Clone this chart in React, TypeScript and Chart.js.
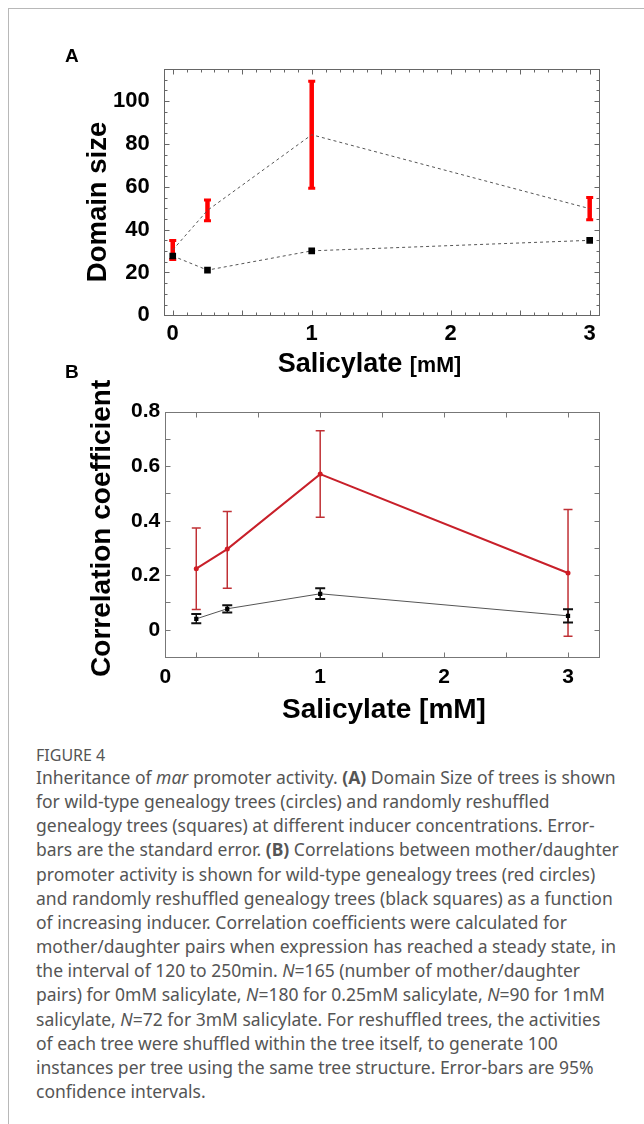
import React, { useEffect, useRef } from "react";
import { Chart, registerables } from "chart.js";

Chart.register(...registerables);

// ---------- data ----------
const concentrations = [0, 0.25, 1, 3];

// Panel A: domain size
const domainWT = [30.5, 49, 84.3, 49.8];
const domainWTErr = [4.4, 4.8, 25, 5.2];
const domainShuffled = [27.7, 21.1, 30.1, 35];

// Panel B: correlation coefficient
const corrWT = [0.224, 0.296, 0.571, 0.208];
const corrWTLow = [0.074, 0.152, 0.413, -0.024];
const corrWTHigh = [0.373, 0.434, 0.73, 0.441];
const corrShuffled = [0.04, 0.077, 0.132, 0.051];
const corrShuffledLow = [0.024, 0.063, 0.113, 0.027];
const corrShuffledHigh = [0.058, 0.09, 0.152, 0.075];

// tick labels
const xTicksA = [0, 1, 2, 3];
const yTicksA = [0, 20, 40, 60, 80, 100];
const xTicksB = [-0.25, 1, 2, 3];
const xTickLabelsB = ["0", "1", "2", "3"];
const yTicksB = [0, 0.2, 0.4, 0.6, 0.8];

const FONT = "'Liberation Sans', Arial, Helvetica, sans-serif";

type ErrSpec = {
  low: number[];
  high: number[];
  color: string;
  width: number;
  capWidth: number;
  capThickness: number;
};

function errorBarPlugin(specs: ErrSpec[]) {
  return {
    id: "errorBars",
    beforeDatasetsDraw(chart: any) {
      const { ctx, scales } = chart;
      const xs = scales.x;
      const ys = scales.y;
      ctx.save();
      for (const s of specs) {
        ctx.strokeStyle = s.color;
        concentrations.forEach((c, i) => {
          const px = xs.getPixelForValue(c);
          const pLow = ys.getPixelForValue(s.low[i]);
          const pHigh = ys.getPixelForValue(s.high[i]);
          ctx.lineCap = "butt";
          ctx.lineWidth = s.width;
          ctx.beginPath();
          ctx.moveTo(px, pLow);
          ctx.lineTo(px, pHigh);
          ctx.stroke();
          ctx.lineWidth = s.capThickness;
          ctx.beginPath();
          ctx.moveTo(px - s.capWidth / 2, pLow);
          ctx.lineTo(px + s.capWidth / 2, pLow);
          ctx.moveTo(px - s.capWidth / 2, pHigh);
          ctx.lineTo(px + s.capWidth / 2, pHigh);
          ctx.stroke();
        });
      }
      ctx.restore();
    },
  };
}

type TickSpec = { step: number; len: number };

function framePlugin(color: string, xSpecs: TickSpec[], ySpecs: TickSpec[]) {
  return {
    id: "frame",
    afterDraw(chart: any) {
      const { ctx, chartArea: a, scales } = chart;
      const L = Math.round(a.left) + 0.5;
      const R = Math.round(a.right) + 0.5;
      const T = Math.round(a.top) + 0.5;
      const B = Math.round(a.bottom) + 0.5;
      ctx.save();
      ctx.strokeStyle = color;
      ctx.lineWidth = 1;
      ctx.strokeRect(L, T, R - L, B - T);
      ctx.beginPath();
      for (const s of xSpecs) {
        const xs = scales.x;
        const k0 = Math.ceil(xs.min / s.step - 1e-9);
        const k1 = Math.floor(xs.max / s.step + 1e-9);
        for (let k = k0; k <= k1; k++) {
          const v = k * s.step;
          const p = Math.round(xs.getPixelForValue(v)) + 0.5;
          if (p <= L + 1 || p >= R - 1) continue;
          ctx.moveTo(p, B);
          ctx.lineTo(p, B - s.len);
          ctx.moveTo(p, T);
          ctx.lineTo(p, T + s.len);
        }
      }
      for (const s of ySpecs) {
        const ys = scales.y;
        const k0 = Math.ceil(ys.min / s.step - 1e-9);
        const k1 = Math.floor(ys.max / s.step + 1e-9);
        for (let k = k0; k <= k1; k++) {
          const v = k * s.step;
          const p = Math.round(ys.getPixelForValue(v)) + 0.5;
          if (p <= T + 1 || p >= B - 1) continue;
          ctx.moveTo(L, p);
          ctx.lineTo(L + s.len, p);
          ctx.moveTo(R, p);
          ctx.lineTo(R - s.len, p);
        }
      }
      ctx.stroke();
      ctx.restore();
    },
  };
}

type TextItem = {
  x: number;
  y: number;
  rotate?: number;
  parts: { text: string; font: string }[];
};

function textPlugin(items: TextItem[]) {
  return {
    id: "axisTexts",
    afterDraw(chart: any) {
      const ctx = chart.ctx;
      for (const item of items) {
        ctx.save();
        ctx.fillStyle = "#000";
        ctx.textBaseline = "alphabetic";
        ctx.textAlign = "left";
        ctx.translate(item.x, item.y);
        if (item.rotate) ctx.rotate(item.rotate);
        const widths = item.parts.map((p) => {
          ctx.font = p.font;
          return ctx.measureText(p.text).width;
        });
        const total = widths.reduce((s, w) => s + w, 0);
        let x = -total / 2;
        item.parts.forEach((p, i) => {
          ctx.font = p.font;
          ctx.fillText(p.text, x, 0);
          x += widths[i];
        });
        ctx.restore();
      }
    },
  };
}

const noGrid = { display: false, drawTicks: false, tickLength: 0 };

function configA(): any {
  return {
    type: "line",
    data: {
      datasets: [
        {
          label: "wild-type",
          data: concentrations.map((x, i) => ({ x, y: domainWT[i] })),
          borderColor: "#555",
          borderWidth: 1,
          borderDash: [3, 3],
          pointRadius: 0,
          fill: false,
        },
        {
          label: "reshuffled",
          data: concentrations.map((x, i) => ({ x, y: domainShuffled[i] })),
          borderColor: "#555",
          borderWidth: 1,
          borderDash: [3, 3],
          pointStyle: "rect",
          pointRadius: 4.7,
          pointBackgroundColor: "#000",
          pointBorderColor: "#000",
          pointBorderWidth: 0,
          fill: false,
        },
      ],
    },
    options: {
      animation: false,
      responsive: false,
      events: [],
      layout: { padding: { top: 69, right: 45, left: 0, bottom: 0 } },
      plugins: { legend: { display: false }, tooltip: { enabled: false } },
      scales: {
        x: {
          type: "linear",
          min: -0.065,
          max: 3.067,
          grid: noGrid,
          border: { display: false },
          afterBuildTicks: (s: any) => {
            s.ticks = xTicksA.map((v) => ({ value: v }));
          },
          afterFit: (s: any) => {
            s.height = 69.7;
          },
          ticks: {
            padding: 5,
            color: "#000",
            font: { family: FONT, size: 22, weight: "bold" },
            callback: (v: any) => String(v),
            maxRotation: 0,
          },
        },
        y: {
          type: "linear",
          min: 0,
          max: 115,
          grid: noGrid,
          border: { display: false },
          afterBuildTicks: (s: any) => {
            s.ticks = yTicksA.map((v) => ({ value: v }));
          },
          afterFit: (s: any) => {
            s.width = 163.7;
          },
          ticks: {
            padding: 14,
            color: "#000",
            font: { family: FONT, size: 22, weight: "bold" },
            callback: (v: any) => String(v),
          },
        },
      },
    },
    plugins: [
      errorBarPlugin([
        {
          low: domainWT.map((v, i) => v - domainWTErr[i]),
          high: domainWT.map((v, i) => v + domainWTErr[i]),
          color: "#ff0000",
          width: 4.5,
          capWidth: 7,
          capThickness: 3,
        },
      ]),
      framePlugin("#666", [{ step: 0.1, len: 3 }, { step: 0.5, len: 5 }], [{ step: 5, len: 3 }, { step: 20, len: 5 }]),
      textPlugin([
        {
          x: 106,
          y: 202,
          rotate: -Math.PI / 2,
          parts: [{ text: "Domain size", font: `bold 27.5px ${FONT}` }],
        },
        {
          x: 369.5,
          y: 371.7,
          parts: [
            { text: "Salicylate ", font: `bold 27px ${FONT}` },
            { text: "[mM]", font: `bold 21.5px ${FONT}` },
          ],
        },
      ]),
    ],
  };
}

function configB(): any {
  return {
    type: "line",
    data: {
      datasets: [
        {
          label: "wild-type",
          data: concentrations.map((x, i) => ({ x, y: corrWT[i] })),
          borderColor: "#c8202a",
          borderWidth: 2,
          pointRadius: 2.5,
          pointBackgroundColor: "#d01c24",
          pointBorderWidth: 0,
          fill: false,
        },
        {
          label: "reshuffled",
          data: concentrations.map((x, i) => ({ x, y: corrShuffled[i] })),
          borderColor: "#555",
          borderWidth: 1,
          pointStyle: "rect",
          pointRadius: 3,
          pointBackgroundColor: "#000",
          pointBorderWidth: 0,
          fill: false,
        },
      ],
    },
    options: {
      animation: false,
      responsive: false,
      events: [],
      layout: { padding: { top: 51.7, right: 45, left: 0, bottom: 0 } },
      plugins: { legend: { display: false }, tooltip: { enabled: false } },
      scales: {
        x: {
          type: "linear",
          min: -0.25,
          max: 3.25,
          grid: noGrid,
          border: { display: false },
          afterBuildTicks: (s: any) => {
            s.ticks = xTicksB.map((v) => ({ value: v }));
          },
          afterFit: (s: any) => {
            s.height = 73;
          },
          ticks: {
            padding: 8,
            color: "#000",
            font: { family: FONT, size: 21, weight: "bold" },
            callback: (_v: any, i: number) => xTickLabelsB[i],
            maxRotation: 0,
          },
        },
        y: {
          type: "linear",
          min: -0.1,
          max: 0.8,
          grid: noGrid,
          border: { display: false },
          afterBuildTicks: (s: any) => {
            s.ticks = yTicksB.map((v) => ({ value: v }));
          },
          afterFit: (s: any) => {
            s.width = 165.3;
          },
          ticks: {
            padding: 5,
            color: "#000",
            font: { family: FONT, size: 21, weight: "bold" },
            callback: (v: any) => String(+Number(v).toFixed(1)),
          },
        },
      },
    },
    plugins: [
      errorBarPlugin([
        {
          low: corrWTLow,
          high: corrWTHigh,
          color: "#c03035",
          width: 1.5,
          capWidth: 9,
          capThickness: 1.5,
        },
        {
          low: corrShuffledLow,
          high: corrShuffledHigh,
          color: "#111",
          width: 1.5,
          capWidth: 10,
          capThickness: 2,
        },
      ]),
      framePlugin("#777", [{ step: 0.5, len: 5 }], [{ step: 0.1, len: 5 }]),
      textPlugin([
        {
          x: 110,
          y: 168.3,
          rotate: -Math.PI / 2,
          parts: [{ text: "Correlation coefficient", font: `bold 28px ${FONT}` }],
        },
        {
          x: 384,
          y: 358,
          parts: [{ text: "Salicylate [mM]", font: `bold 28px ${FONT}` }],
        },
      ]),
    ],
  };
}

const captionLines: React.ReactNode[] = [
  <>Inheritance of <i>mar</i> promoter activity. <b>(A)</b> Domain Size of trees is shown</>,
  <>for wild-type genealogy trees (circles) and randomly reshuffled</>,
  <>genealogy trees (squares) at different inducer concentrations. Error-</>,
  <>bars are the standard error. <b>(B)</b> Correlations between mother/daughter</>,
  <>promoter activity is shown for wild-type genealogy trees (red circles)</>,
  <>and randomly reshuffled genealogy trees (black squares) as a function</>,
  <>of increasing inducer. Correlation coefficients were calculated for</>,
  <>mother/daughter pairs when expression has reached a steady state, in</>,
  <>the interval of 120 to 250min. <i>N</i>=165 (number of mother/daughter</>,
  <>pairs) for 0mM salicylate, <i>N</i>=180 for 0.25mM salicylate, <i>N</i>=90 for 1mM</>,
  <>salicylate, <i>N</i>=72 for 3mM salicylate. For reshuffled trees, the activities</>,
  <>of each tree were shuffled within the tree itself, to generate 100</>,
  <>instances per tree using the same tree structure. Error-bars are 95%</>,
  <>confidence intervals.</>,
];

export default function App() {
  const refA = useRef<HTMLCanvasElement>(null);
  const refB = useRef<HTMLCanvasElement>(null);

  useEffect(() => {
    const a = new Chart(refA.current as HTMLCanvasElement, configA());
    const b = new Chart(refB.current as HTMLCanvasElement, configB());
    return () => {
      a.destroy();
      b.destroy();
    };
  }, []);

  const panelLabel: React.CSSProperties = {
    position: "absolute",
    left: 65,
    fontFamily: FONT,
    fontWeight: "bold",
    fontSize: 19,
    lineHeight: "19px",
    color: "#000",
  };

  return (
    <div
      style={{
        position: "absolute",
        left: 0,
        top: 0,
        width: 644,
        height: 1124,
        background: "#fff",
        overflow: "hidden",
      }}
    >
      <div style={{ position: "absolute", left: 8, top: 8, width: 636, height: 1, background: "#b8b8b8" }} />
      <div style={{ position: "absolute", left: 8, top: 8, width: 1, height: 1116, background: "#b8b8b8" }} />
      <canvas
        ref={refA}
        width={644}
        height={385}
        style={{ position: "absolute", left: 0, top: 0, width: 644, height: 385 }}
      />
      <canvas
        ref={refB}
        width={644}
        height={370}
        style={{ position: "absolute", left: 0, top: 360, width: 644, height: 370 }}
      />
      <div style={{ ...panelLabel, top: 46 }}>A</div>
      <div style={{ ...panelLabel, top: 362 }}>B</div>
      <div
        style={{
          position: "absolute",
          left: 36,
          top: 745,
          fontFamily: "'Noto Sans', sans-serif",
          fontSize: 16,
          lineHeight: "20px",
          color: "#555",
          whiteSpace: "nowrap",
        }}
      >
        FIGURE 4
      </div>
      <div
        style={{
          position: "absolute",
          left: 36,
          top: 765,
          fontFamily: "'Noto Sans', sans-serif",
          fontSize: 17.5,
          lineHeight: "24.15px",
          color: "#555",
          whiteSpace: "nowrap",
        }}
      >
        {captionLines.map((l, i) => (
          <div key={i}>{l}</div>
        ))}
      </div>
    </div>
  );
}
